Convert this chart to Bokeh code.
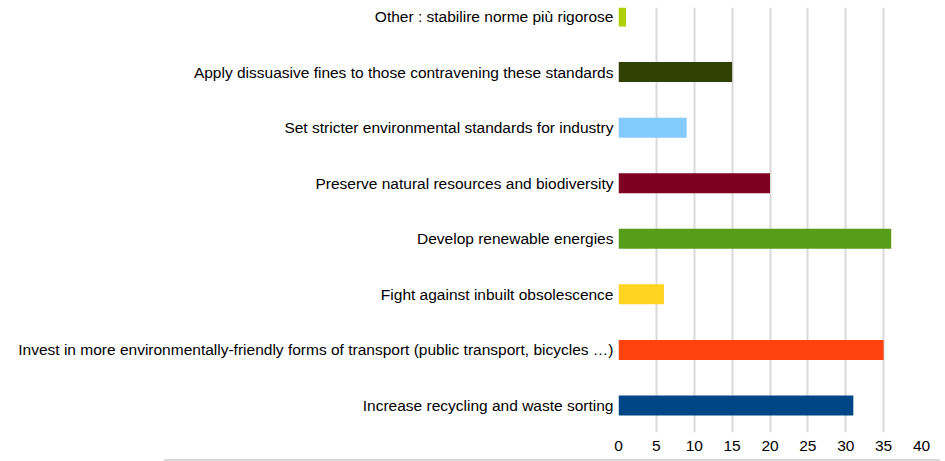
from bokeh.plotting import figure
from bokeh.models import Range1d, FixedTicker, Div
from bokeh.layouts import column
from bokeh.embed import file_html
from bokeh.resources import INLINE

categories = [
    "Increase recycling and waste sorting",
    "Invest in more environmentally-friendly forms of transport (public transport, bicycles …)",
    "Fight against inbuilt obsolescence",
    "Develop renewable energies",
    "Preserve natural resources and biodiversity",
    "Set stricter environmental standards for industry",
    "Apply dissuasive fines to those contravening these standards",
    "Other : stabilire norme più rigorose",
]
values = [31, 35, 6, 36, 20, 9, 15, 1]
colors = ["#004586", "#ff420e", "#ffd320", "#579d1c", "#7e0021", "#83caff", "#314004", "#aecf00"]
x_ticks = [0, 5, 10, 15, 20, 25, 30, 35, 40]

positions = list(range(len(categories)))

p = figure(width=943, height=459, output_backend="svg", toolbar_location=None,
           x_range=Range1d(0, 40), y_range=Range1d(-0.486, 7.162),
           min_border_left=618, min_border_right=22, min_border_top=7, min_border_bottom=27)

p.hbar(y=positions, right=values, left=0, height=0.36, color=colors, line_color=None)

p.outline_line_color = None
p.background_fill_color = "white"
p.border_fill_color = "white"

p.xaxis.ticker = FixedTicker(ticks=x_ticks)
p.xaxis.axis_line_color = None
p.xaxis.major_tick_line_color = None
p.xaxis.minor_tick_line_color = None
p.xaxis.major_tick_out = 0
p.xaxis.major_tick_in = 0
p.xaxis.major_label_standoff = 8
p.xaxis.major_label_text_font = "Liberation Sans"
p.xaxis.major_label_text_font_size = "15.5px"
p.xaxis.major_label_text_color = "#000000"

p.yaxis.ticker = FixedTicker(ticks=positions)
p.yaxis.major_label_overrides = {i: c for i, c in zip(positions, categories)}
p.yaxis.axis_line_color = None
p.yaxis.major_tick_line_color = None
p.yaxis.minor_tick_line_color = None
p.yaxis.major_tick_out = 0
p.yaxis.major_tick_in = 0
p.yaxis.major_label_standoff = 5
p.yaxis.major_label_text_font = "Liberation Sans"
p.yaxis.major_label_text_font_size = "15.5px"
p.yaxis.major_label_text_color = "#000000"

p.xgrid.grid_line_color = "#d9d9d9"
p.xgrid.grid_line_width = 2
p.ygrid.grid_line_color = None

line = Div(text="", width=776, height=2, margin=(0, 0, 0, 164),
           styles={"background-color": "#d9d9d9"})

layout = column(p, line, spacing=0)

open("out.html", "w").write(file_html(layout, INLINE))
